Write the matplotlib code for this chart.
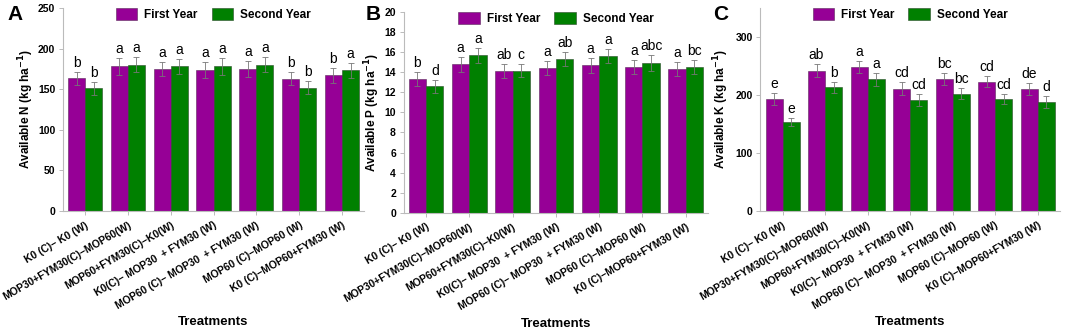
import numpy as np
import matplotlib
matplotlib.use('Agg')
import matplotlib.pyplot as plt

treatments = ['K0 (C)– K0 (W)', 'MOP30+FYM30(C)–MOP60(W)', 'MOP60+FYM30(C)–K0(W)',
              'K0(C)– MOP30  + FYM30 (W)', 'MOP60 (C)– MOP30  + FYM30 (W)',
              'MOP60 (C)–MOP60 (W)', 'K0 (C)–MOP60+FYM30 (W)']

# Available N
n_first = [163.5, 178, 175, 174, 175, 163, 167]
n_second = [151, 180, 178, 178, 180, 152, 173]
n_first_err = [8, 10, 9, 10, 10, 8, 9]
n_second_err = [8, 9, 9, 10, 9, 8, 9]
n_first_lab = ['b', 'a', 'a', 'a', 'a', 'b', 'b']
n_second_lab = ['b', 'a', 'a', 'a', 'a', 'b', 'a']

# Available P
p_first = [13.3, 14.8, 14.15, 14.4, 14.7, 14.5, 14.3]
p_second = [12.6, 15.7, 14.15, 15.3, 15.6, 14.95, 14.5]
p_first_err = [0.7, 0.75, 0.7, 0.7, 0.75, 0.7, 0.7]
p_second_err = [0.65, 0.75, 0.65, 0.7, 0.7, 0.8, 0.7]
p_first_lab = ['b', 'a', 'ab', 'a', 'a', 'a', 'a']
p_second_lab = ['d', 'a', 'c', 'ab', 'a', 'abc', 'bc']

# Available K
k_first = [193, 242, 248, 211, 227, 223, 210.5]
k_second = [153, 213, 227, 191.5, 202.5, 193, 187.5]
k_first_err = [11, 11, 11, 11, 10, 10, 10]
k_second_err = [7, 10, 11, 10, 10, 9, 10]
k_first_lab = ['e', 'ab', 'a', 'cd', 'bc', 'cd', 'de']
k_second_lab = ['e', 'b', 'a', 'cd', 'bc', 'cd', 'd']

purple = '#960096'
green = '#008000'

fig = plt.figure(figsize=(10.65, 3.3), dpi=100)
plt.rcParams['font.family'] = ['Liberation Sans', 'DejaVu Sans']

panels = [
    ('A', 0.007, -0.088, [0.059, 0.3606, 0.283, 0.6154], n_first, n_second, n_first_err, n_second_err,
     n_first_lab, n_second_lab, 'Available N (kg ha$^{\\mathbf{-1}}$)', (0, 250), np.arange(0, 251, 50)),
    ('B', 0.343, -0.072, [0.379, 0.355, 0.286, 0.609], p_first, p_second, p_first_err, p_second_err,
     p_first_lab, p_second_lab, 'Available P (kg ha$^{\\mathbf{-1}}$)', (0, 20), np.arange(0, 21, 2)),
    ('C', 0.670, -0.098, [0.714, 0.3606, 0.281, 0.6154], k_first, k_second, k_first_err, k_second_err,
     k_first_lab, k_second_lab, 'Available K (kg ha$^{\\mathbf{-1}}$)', (0, 350), np.arange(0, 301, 100)),
]

x = np.arange(len(treatments))
w = 0.4
for letter, lx, ylx, pos, v1, v2, e1, e2, l1, l2, ylab, ylim, yt in panels:
    ax = fig.add_axes(pos)
    ax.bar(x - w / 2, v1, w, color=purple, edgecolor='#5a2a5a', linewidth=0.4,
           yerr=e1, error_kw=dict(ecolor='#777777', elinewidth=0.6, capsize=2.5, capthick=0.6),
           label='First Year')
    ax.bar(x + w / 2, v2, w, color=green, edgecolor='#2a4a2a', linewidth=0.4,
           yerr=e2, error_kw=dict(ecolor='#777777', elinewidth=0.6, capsize=2.5, capthick=0.6),
           label='Second Year')
    off = (ylim[1] - ylim[0]) * 0.01
    for i in range(len(x)):
        ax.text(x[i] - w / 2, v1[i] + e1[i] + off, l1[i], ha='center', va='bottom', fontsize=10)
        ax.text(x[i] + w / 2, v2[i] + e2[i] + off, l2[i], ha='center', va='bottom', fontsize=10)
    ax.set_xlim(-0.52, 6.52)
    ax.set_ylim(*ylim)
    ax.set_yticks(yt)
    ax.set_yticklabels([str(t) for t in yt], fontsize=7.5, fontweight='bold')
    ax.set_xticks(x)
    ax.set_xticklabels(treatments, rotation=30, ha='right', rotation_mode='anchor',
                       fontsize=7.5, fontweight='bold')
    ax.set_ylabel(ylab, fontsize=8.5, fontweight='bold')
    ax.yaxis.set_label_coords(ylx, 0.5)
    ax.set_xlabel('Treatments', fontsize=9.5, fontweight='bold')
    for s in ['top', 'right']:
        ax.spines[s].set_visible(False)
    for s in ['left', 'bottom']:
        ax.spines[s].set_color('#bbbbbb')
        ax.spines[s].set_linewidth(0.8)
    ax.tick_params(axis='both', colors='#bbbbbb', labelcolor='black', length=3, width=0.7)
    ax.tick_params(axis='y', pad=2.5)
    ax.legend(loc='upper center', ncol=2, frameon=False,
              prop=dict(weight='bold', size=8.5), handlelength=1.8, handleheight=1.1,
              handletextpad=0.6, columnspacing=1.2, bbox_to_anchor=(0.5, 1.05))
    fig.text(lx, 0.985, letter, fontsize=15, fontweight='bold', va='top')

fig.savefig('out.png', dpi=100)
